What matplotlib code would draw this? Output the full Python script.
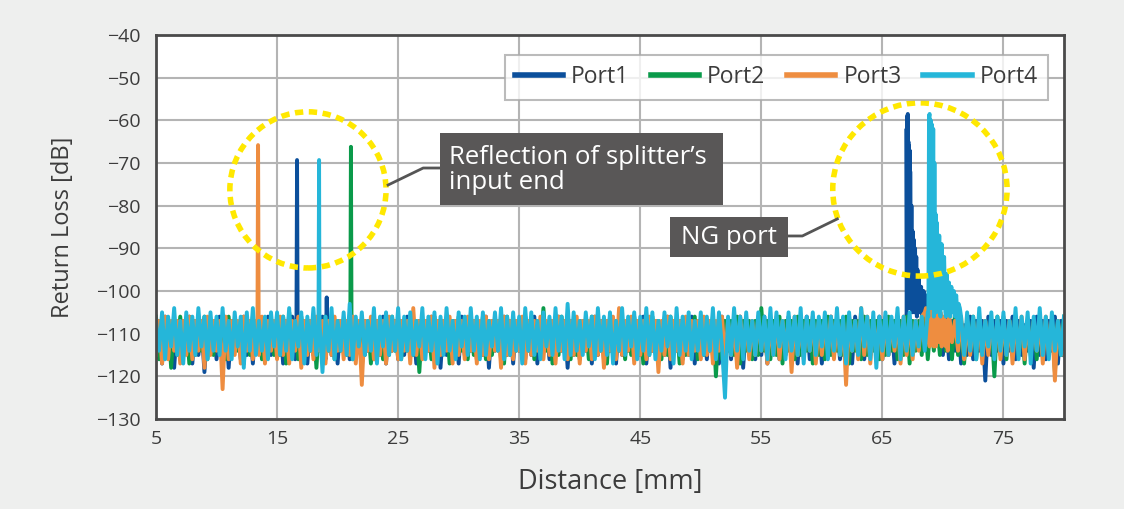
import numpy as np
import matplotlib.pyplot as plt
from matplotlib.patches import Ellipse, Rectangle

plt.rcParams['font.family'] = ['Open Sans', 'DejaVu Sans']

# distance grid of the noise floor samples [mm]
dist = np.arange(5.0, 80.001, 0.25)

# noise floor readings [dB], one per grid point (20 per row = 5 mm)
port1_noise = [
    -115, -107, -117, -106, -114, -108, -118, -107, -116, -107, -114, -106, -117, -107, -115, -108, -119, -107, -114, -107,
    -116, -106, -115, -107, -118, -107, -114, -108, -116, -106, -115, -107, -117, -107, -114, -107, -116, -106, -115, -108,
    -114, -107, -117, -107, -115, -106, -116, -108, -114, -107, -117, -107, -115, -107, -114, -106, -116, -107, -115, -107,
    -117, -107, -114, -107, -116, -106, -115, -108, -118, -107, -114, -107, -116, -107, -115, -106, -117, -107, -114, -107,
    -116, -107, -115, -106, -114, -108, -117, -107, -115, -107, -114, -106, -116, -107, -118, -107, -115, -108, -114, -107,
    -117, -106, -115, -107, -114, -107, -116, -108, -115, -106, -118, -107, -114, -107, -116, -106, -115, -107, -117, -107,
    -114, -107, -116, -107, -115, -106, -117, -107, -114, -108, -116, -107, -115, -106, -114, -107, -118, -107, -115, -107,
    -116, -107, -114, -108, -117, -106, -115, -107, -116, -107, -114, -107, -117, -106, -115, -108, -114, -107, -116, -107,
    -115, -106, -117, -107, -114, -107, -116, -108, -115, -106, -118, -107, -114, -107, -116, -107, -115, -106, -117, -107,
    -114, -107, -116, -107, -115, -108, -117, -106, -114, -107, -116, -107, -115, -106, -118, -107, -114, -108, -116, -107,
    -115, -106, -117, -107, -114, -107, -116, -108, -115, -106, -114, -107, -117, -107, -115, -106, -116, -107, -114, -107,
    -117, -107, -115, -106, -114, -108, -116, -107, -115, -107, -117, -106, -114, -107, -116, -107, -115, -108, -114, -106,
    -116, -107, -115, -107, -117, -106, -114, -107, -105, -104, -104, -104, -103, -105, -104, -106, -105, -104, -112, -107,
    -115, -106, -116, -107, -114, -107, -117, -108, -115, -106, -116, -107, -114, -107, -121, -106, -115, -107, -114, -107,
    -117, -107, -114, -106, -116, -107, -115, -108, -114, -107, -118, -106, -115, -107, -116, -107, -114, -106, -117, -107,
    -115,
]
port2_noise = [
    -106, -116, -107, -114, -107, -118, -108, -115, -106, -114, -107, -117, -107, -115, -108, -114, -106, -116, -107, -115,
    -107, -114, -108, -116, -106, -115, -107, -114, -107, -117, -107, -115, -106, -114, -107, -116, -107, -114, -108, -115,
    -107, -115, -106, -117, -105, -114, -107, -116, -106, -115, -108, -114, -107, -118, -107, -115, -106, -114, -107, -116,
    -107, -114, -107, -115, -106, -116, -108, -114, -107, -115, -107, -117, -106, -114, -107, -116, -107, -115, -106, -114,
    -107, -116, -107, -114, -106, -115, -107, -119, -107, -114, -108, -116, -106, -115, -107, -114, -107, -117, -107, -115,
    -106, -114, -107, -116, -107, -115, -108, -114, -106, -116, -107, -115, -107, -114, -107, -117, -106, -115, -107, -114,
    -107, -115, -106, -114, -107, -116, -107, -115, -104, -114, -107, -117, -107, -115, -106, -114, -107, -116, -107, -115,
    -107, -114, -107, -116, -106, -115, -107, -114, -107, -117, -106, -115, -107, -114, -107, -116, -107, -115, -106, -114,
    -107, -117, -107, -115, -106, -114, -107, -116, -107, -115, -106, -114, -107, -117, -107, -115, -107, -114, -106, -116,
    -107, -115, -107, -114, -106, -120, -107, -116, -107, -114, -107, -115, -106, -117, -107, -114, -107, -116, -107, -115,
    -104, -114, -107, -116, -107, -115, -106, -117, -107, -114, -107, -116, -106, -115, -107, -114, -107, -117, -107, -115,
    -107, -116, -106, -115, -107, -114, -107, -115, -106, -117, -107, -114, -107, -116, -106, -115, -107, -114, -107, -116,
    -107, -115, -106, -114, -107, -116, -107, -115, -106, -117, -107, -114, -107, -115, -106, -116, -107, -114, -107, -115,
    -107, -114, -107, -116, -105, -115, -107, -117, -107, -114, -106, -116, -107, -115, -107, -114, -107, -120, -106, -115,
    -107, -116, -107, -114, -106, -115, -107, -117, -107, -114, -107, -116, -106, -115, -107, -114, -107, -119, -107, -115,
    -106,
]
port3_noise = [
    -115, -107, -117, -106, -116, -107, -114, -107, -117, -107, -115, -106, -116, -107, -114, -107, -118, -106, -115, -107,
    -114, -107, -123, -106, -116, -107, -115, -107, -117, -106, -114, -107, -116, -107, -115, -106, -117, -107, -114, -107,
    -116, -106, -115, -107, -117, -107, -114, -106, -118, -107, -115, -107, -116, -106, -114, -107, -117, -107, -115, -106,
    -114, -107, -116, -107, -115, -106, -117, -107, -122, -107, -114, -106, -116, -107, -115, -107, -117, -106, -114, -107,
    -116, -107, -114, -107, -117, -104, -115, -107, -116, -107, -114, -106, -118, -107, -115, -107, -114, -106, -117, -107,
    -115, -107, -116, -106, -114, -107, -117, -107, -115, -106, -116, -107, -114, -107, -118, -106, -115, -107, -116, -107,
    -114, -106, -117, -107, -115, -107, -114, -106, -116, -107, -115, -107, -117, -106, -114, -107, -116, -107, -115, -106,
    -117, -107, -114, -107, -116, -106, -115, -107, -118, -107, -114, -106, -116, -104, -115, -107, -114, -106, -117, -107,
    -115, -107, -116, -106, -114, -107, -119, -107, -115, -106, -116, -107, -114, -107, -117, -106, -115, -107, -114, -107,
    -116, -106, -115, -107, -117, -107, -114, -106, -116, -107, -115, -107, -118, -106, -114, -107, -116, -107, -115, -106,
    -114, -107, -117, -107, -115, -106, -116, -107, -114, -107, -119, -106, -115, -107, -116, -107, -114, -106, -117, -107,
    -115, -107, -114, -106, -116, -107, -115, -107, -122, -106, -114, -107, -116, -104, -115, -106, -117, -107, -114, -107,
    -116, -106, -115, -107, -114, -107, -117, -106, -115, -107, -116, -107, -114, -106, -105, -112, -106, -113, -105, -112,
    -106, -113, -105, -112, -107, -114, -106, -116, -107, -115, -107, -114, -106, -117, -107, -115, -107, -114, -107, -116,
    -106, -115, -107, -117, -107, -114, -106, -116, -107, -115, -107, -114, -107, -117, -106, -115, -107, -121, -107, -114,
    -115,
]
port4_noise = [
    -107, -114, -105, -116, -106, -113, -104, -115, -107, -117, -105, -114, -106, -115, -104, -113, -106, -116, -105, -114,
    -106, -115, -104, -114, -107, -116, -105, -113, -106, -118, -105, -114, -104, -115, -107, -114, -106, -116, -105, -113,
    -105, -115, -106, -114, -104, -116, -107, -113, -105, -117, -106, -114, -104, -115, -105, -119, -106, -114, -104, -116,
    -107, -114, -105, -115, -103, -116, -106, -113, -105, -115, -107, -114, -104, -117, -106, -113, -105, -115, -106, -114,
    -104, -116, -106, -114, -105, -115, -107, -113, -104, -116, -106, -114, -105, -117, -106, -115, -104, -114, -107, -116,
    -105, -113, -106, -115, -104, -114, -106, -116, -105, -115, -107, -113, -105, -114, -104, -116, -106, -115, -105, -114,
    -106, -117, -104, -114, -105, -115, -107, -116, -105, -113, -106, -115, -104, -114, -106, -116, -103, -115, -105, -114,
    -107, -115, -105, -113, -106, -116, -104, -114, -106, -115, -105, -117, -107, -114, -104, -115, -106, -113, -105, -116,
    -106, -114, -104, -115, -105, -116, -107, -114, -105, -113, -106, -117, -104, -115, -106, -114, -105, -116, -107, -114,
    -105, -115, -106, -114, -104, -116, -105, -113, -125, -106, -115, -104, -114, -106, -116, -105, -114, -107, -115, -105,
    -114, -106, -116, -104, -115, -105, -113, -107, -116, -105, -114, -106, -115, -104, -117, -106, -114, -105, -115, -106,
    -113, -105, -116, -106, -114, -104, -115, -106, -117, -105, -114, -107, -115, -104, -113, -106, -116, -105, -118, -106,
    -114, -105, -115, -106, -113, -104, -116, -106, -114, -105, -115, -107, -113, -106, -114, -105, -104, -106, -104, -105,
    -104, -106, -105, -104, -106, -112, -106, -115, -105, -114, -106, -116, -104, -115, -107, -113, -105, -116, -106, -114,
    -105, -115, -107, -114, -104, -116, -106, -113, -105, -117, -106, -114, -104, -115, -106, -116, -105, -114, -107, -115,
    -106,
]

# reflection peaks and tails [mm], [dB]
port1_peak_x = [16.60, 16.65, 16.70, 19.05, 19.10, 19.15,
                66.95, 67.00, 67.03, 67.05, 67.08, 67.10, 67.13, 67.15, 67.18,
                67.20, 67.23, 67.25, 67.28, 67.30, 67.35, 67.40, 67.45, 67.50,
                67.55, 67.60, 67.65, 67.70, 67.75, 67.80, 67.85, 67.90, 67.95,
                68.00, 68.10, 68.20, 68.30, 68.40, 68.50, 68.60, 68.70, 68.80,
                69.25, 69.30, 69.35]
port1_peak_y = [-108, -69.3, -108, -110, -101.5, -110,
                -108, -62, -100, -59, -104, -58.5, -90, -65, -104,
                -66, -98, -67, -104, -72, -103, -80, -105, -86,
                -104, -88, -105, -90, -104, -92, -106, -95, -104,
                -97, -105, -99, -106, -100, -105, -101, -106, -104,
                -110, -100, -110]
port2_peak_x = [21.05, 21.10, 21.15]
port2_peak_y = [-108, -66.2, -108]
port3_peak_x = [13.38, 13.43, 13.48,
                68.60, 68.70, 68.80, 68.90, 69.10, 69.20, 69.30, 69.40,
                69.60, 69.70, 69.80, 69.90, 70.10, 70.20, 70.30, 70.40]
port3_peak_y = [-108, -65.8, -108,
                -104, -112, -105, -113, -104, -112, -105, -113,
                -106, -112, -105, -113, -106, -112, -107, -114]
port4_peak_x = [18.42, 18.47, 18.52,
                68.80, 68.85, 68.90, 68.95, 69.00, 69.05, 69.10, 69.15, 69.20,
                69.25, 69.30, 69.35, 69.40, 69.45, 69.50, 69.60, 69.70, 69.80,
                69.90, 70.00, 70.10, 70.20, 70.30, 70.40, 70.50, 70.60, 70.70,
                70.80, 70.90, 71.00, 71.10, 71.20, 71.30, 71.40]
port4_peak_y = [-108, -69.3, -108,
                -106, -59, -58.5, -100, -60, -104, -61, -95, -62,
                -106, -70, -104, -82, -105, -84, -104, -87, -106,
                -89, -104, -92, -105, -96, -104, -98, -106, -99,
                -105, -100, -104, -101, -106, -103, -104]

names = ['Port1', 'Port2', 'Port3', 'Port4']
colors = ['#0b4f9b', '#0a9a4a', '#ee8d40', '#25b6d9']
noises = [port1_noise, port2_noise, port3_noise, port4_noise]
peaks_x = [port1_peak_x, port2_peak_x, port3_peak_x, port4_peak_x]
peaks_y = [port1_peak_y, port2_peak_y, port3_peak_y, port4_peak_y]

text_col = '#3c3c3c'
fig = plt.figure(figsize=(11.24, 5.09), dpi=100, facecolor='#eeefee')
ax = fig.add_axes([0.1388, 0.1768, 0.8078, 0.7544])
ax.set_facecolor('white')

for name, col, noise, px, py in zip(names, colors, noises, peaks_x, peaks_y):
    x = np.concatenate([dist, px])
    y = np.concatenate([np.array(noise, float), py])
    order = np.argsort(x, kind='stable')
    ax.plot(x[order], y[order], color=col, lw=2.8, label=name)

ax.set_xlim(5, 80)
ax.set_ylim(-130, -40)
ax.set_xticks(np.arange(5, 80, 10))
ax.set_yticks(np.arange(-130, -39, 10))
ax.grid(True, color='#b4b4b4', lw=1.5)
ax.set_axisbelow(True)
for s in ax.spines.values():
    s.set_color('#4a4a4a')
    s.set_linewidth(2)
ax.tick_params(length=0, labelsize=14, colors=text_col)
ax.tick_params(axis='y', pad=11)
ax.tick_params(axis='x', pad=8)
ax.set_xlabel('Distance [mm]', fontsize=19.5, color=text_col, labelpad=14)
ax.set_ylabel('Return Loss [dB]', fontsize=17, color=text_col, labelpad=15)

# dotted circles around the reflections
ax.add_patch(Ellipse((17.55, -76.3), 12.9, 36.6, fill=False, ec='#ffe800',
                     lw=4, ls=(0, (1.5, 1.0)), zorder=5))
ax.add_patch(Ellipse((68.1, -76.2), 14.4, 40.6, fill=False, ec='#ffe800',
                     lw=4, ls=(0, (1.5, 1.0)), zorder=5))

# callouts
box_col = '#595757'
ax.plot([24.17, 27.07, 28.47], [-75.15, -71.17, -71.17], color='#555555', lw=2, zorder=6)
ax.add_patch(Rectangle((28.47, -79.84), 23.39, 16.87, fc=box_col, ec='none', zorder=6))
ax.text(29.2, -71.6, 'Reflection of splitter\u2019s\ninput end', color='white',
        fontsize=18.5, va='center', ha='left', linespacing=1.0, zorder=7)
ax.plot([57.23, 58.39, 61.28], [-87.1, -87.1, -83.1], color='#555555', lw=2, zorder=6)
ax.add_patch(Rectangle((47.48, -92.03), 9.75, 9.38, fc=box_col, ec='none', zorder=6))
ax.text(52.35, -87.5, 'NG port', color='white', fontsize=18.5, va='center',
        ha='center', zorder=7)

leg = ax.legend(loc='upper right', bbox_to_anchor=(0.9824, 0.9479), ncol=4,
                fontsize=16.5, frameon=True, fancybox=False, handlelength=2.1,
                columnspacing=0.95, handletextpad=0.35, borderpad=0.45,
                borderaxespad=0)
leg.get_frame().set_edgecolor('#aaaaaa')
leg.get_frame().set_linewidth(1.5)
for line in leg.get_lines():
    line.set_linewidth(4)
for t in leg.get_texts():
    t.set_color(text_col)

fig.savefig('out.png', dpi=100, facecolor=fig.get_facecolor())
